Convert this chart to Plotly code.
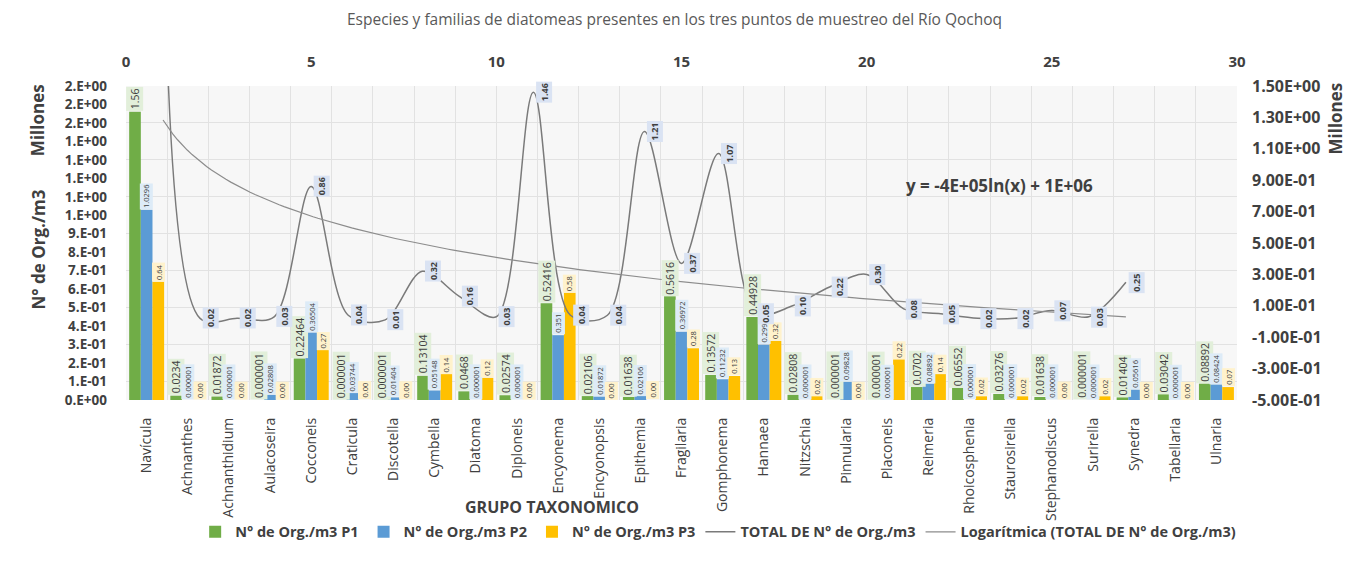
import numpy as np
import plotly.graph_objects as go

# ---------------- data (values in millions of organisms / m3) ----------------
categories = ["Navícula", "Achnanthes", "Achnanthidium", "Aulacoseira", "Cocconeis",
              "Craticula", "Discotella", "Cymbella", "Diatoma", "Diploneis", "Encyonema",
              "Encyonopsis", "Epithemia", "Fragilaria", "Gomphonema", "Hannaea", "Nitzschia",
              "Pinnularia", "Placoneis", "Reimeria", "Rhoicosphenia", "Staurosirella",
              "Stephanodiscus", "Surirella", "Synedra", "Tabellaria", "Ulnaria"]

p1 = [1.56, 0.0234, 0.01872, 0.000001, 0.22464, 0.000001, 0.000001, 0.13104, 0.0468,
      0.02574, 0.52416, 0.02106, 0.01638, 0.5616, 0.13572, 0.44928, 0.02808, 0.000001,
      0.000001, 0.0702, 0.06552, 0.03276, 0.01638, 0.000001, 0.01404, 0.03042, 0.08892]
p2 = [1.0296, 0.000001, 0.000001, 0.02808, 0.36504, 0.03744, 0.01404, 0.05148, 0.000001,
      0.000001, 0.351, 0.01872, 0.02106, 0.36972, 0.11232, 0.29952, 0.000001, 0.09828,
      0.000001, 0.08892, 0.000001, 0.000001, 0.000001, 0.000001, 0.05616, 0.000001, 0.08424]
p3 = [0.64, 0.0, 0.0, 0.0, 0.27, 0.0, 0.0, 0.14, 0.12, 0.0, 0.58, 0.0, 0.0, 0.28, 0.13,
      0.32, 0.02, 0.0, 0.22, 0.14, 0.02, 0.02, 0.0, 0.02, 0.0, 0.0, 0.07]
total = [3.23, 0.02, 0.02, 0.03, 0.86, 0.04, 0.01, 0.32, 0.16, 0.03, 1.46, 0.04, 0.04,
         1.21, 0.37, 1.07, 0.05, 0.10, 0.22, 0.30, 0.08, 0.05, 0.02, 0.02, 0.07, 0.03, 0.25]

left_ticks = [round(0.1 * k, 1) for k in range(18)]           # 0 .. 1.7
right_ticks = [round(-0.5 + 0.2 * k, 1) for k in range(11)]    # -0.5 .. 1.5

title = "Especies y familias de diatomeas presentes en los tres puntos de muestreo del Río Qochoq"
equation = "y = -4E+05ln(x) + 1E+06"

# ---------------- styling ----------------
FONT = "Open Sans"
TXT = "#404040"
C1, C2, C3 = "#70ad47", "#5b9bd5", "#ffc000"
BG1, BG2, BG3 = "#e2efda", "#ddebf7", "#fff2cc"
BARGAP = 0.15

def gen(v):
    return f"{v:.6f}".rstrip("0").rstrip(".")

total_x = list(range(1, len(categories) + 1))
b, a = np.polyfit(np.log(total_x), total, 1)
trend_x = np.linspace(1, len(categories), 200)
trend_y = a + b * np.log(trend_x)

fig = go.Figure()
for name, vals, col in [("N° de Org./m3 P1", p1, C1), ("N° de Org./m3 P2", p2, C2),
                        ("N° de Org./m3 P3", p3, C3)]:
    fig.add_trace(go.Bar(x=categories, y=vals, name=name, marker_color=col,
                         marker_line_width=0, xaxis="x", yaxis="y"))

fig.add_trace(go.Scatter(x=total_x, y=total, name="TOTAL DE N° de Org./m3", mode="lines",
                         line=dict(color="#7a7a7a", width=1.5, shape="spline", smoothing=0.9),
                         xaxis="x2", yaxis="y2"))
fig.add_trace(go.Scatter(x=trend_x, y=trend_y, name="Logarítmica (TOTAL DE N° de Org./m3)",
                         mode="lines", line=dict(color="#8c8c8c", width=1.2),
                         xaxis="x2", yaxis="y2"))

ann = []
w = (1 - BARGAP) / 3
for s, (vals, fmt, bg, size) in enumerate([(p1, gen, BG1, 10.5),
                                           (p2, gen, BG2, 7.5),
                                           (p3, lambda v: f"{v:.2f}", BG3, 7.5)]):
    off = (s - 1) * w
    for i, v in enumerate(vals):
        ann.append(dict(x=i + off, y=v, xref="x", yref="y", text=fmt(v), textangle=-90,
                        xanchor="center", yanchor="bottom", showarrow=False, bgcolor=bg,
                        borderpad=1, font=dict(family=FONT, size=size, color=TXT)))

for xv, v in zip(total_x, total):
    if v <= right_ticks[-1]:
        ann.append(dict(x=xv, y=v, xref="x2", yref="y2", text=f"{v:.2f}", textangle=-90,
                        xanchor="left", yanchor="middle", xshift=2, showarrow=False,
                        bgcolor="#dae3f3", borderpad=1,
                        font=dict(family=FONT, size=9, color=TXT, weight="bold")))

ann += [
    dict(x=0.786, y=0.682, xref="paper", yref="paper", text=equation, showarrow=False,
         xanchor="center", yanchor="middle",
         font=dict(family=FONT, size=17, color=TXT, weight="bold")),
    dict(x=0.383, y=-0.34, xref="paper", yref="paper", text="GRUPO TAXONOMICO",
         showarrow=False, xanchor="center", yanchor="middle",
         font=dict(family=FONT, size=16, color=TXT, weight="bold")),
    dict(x=-0.079, y=0.48, xref="paper", yref="paper", text="N° de Org./m3", textangle=-90,
         showarrow=False, xanchor="center", yanchor="middle",
         font=dict(family=FONT, size=17, color=TXT, weight="bold")),
    dict(x=-0.079, y=0.892, xref="paper", yref="paper", text="Millones", textangle=-90,
         showarrow=False, xanchor="center", yanchor="middle",
         font=dict(family=FONT, size=17, color=TXT, weight="bold")),
    dict(x=1.1008, y=0.898, xref="paper", yref="paper", text="Millones", textangle=-90,
         showarrow=False, xanchor="right", yanchor="middle",
         font=dict(family=FONT, size=17, color=TXT, weight="bold")),
]

GRID = "#e2e2e2"
fig.update_layout(
    width=1349, height=570,
    margin=dict(l=126, r=112, t=86, b=170),
    paper_bgcolor="white", plot_bgcolor="#f7f7f7",
    barmode="group", bargap=BARGAP, bargroupgap=0,
    font=dict(family=FONT, color=TXT),
    title=dict(text=title, x=0.5, xanchor="center", y=0.965, yanchor="middle",
               font=dict(family=FONT, size=15.5, color="#595959")),
    xaxis=dict(type="category", tickangle=-90, tickson="boundaries", showgrid=True,
               gridcolor=GRID, ticks="", tickfont=dict(size=14, color=TXT),
               ticklabelstandoff=14, showline=False, zeroline=False),
    yaxis=dict(range=[0, 1.7], tickvals=left_ticks,
               ticktext=[f"{v:#.0E}" for v in left_ticks], showgrid=False, zeroline=False,
               tickfont=dict(size=13.5, color=TXT, weight="bold"), ticklabelstandoff=18,
               minor=dict(tickvals=[round(0.1 + 0.2 * k, 1) for k in range(9)],
                          showgrid=True, gridcolor=GRID, ticklen=0)),
    xaxis2=dict(overlaying="x", side="top", range=[0, 30], dtick=5, tick0=0, showgrid=False,
                zeroline=False, tickfont=dict(size=15, color=TXT, weight="bold"),
                ticklabelstandoff=15),
    yaxis2=dict(overlaying="y", side="right", range=[-0.5, 1.5], tickvals=right_ticks,
                ticktext=[f"{v:.2E}" for v in right_ticks], showgrid=False, zeroline=False,
                tickfont=dict(size=16, color=TXT, weight="bold"), ticklabelstandoff=14),
    legend=dict(orientation="h", x=0.533, xanchor="center", y=-0.42, yanchor="middle",
                font=dict(family=FONT, size=14.5, color=TXT, weight="bold"),
                bgcolor="rgba(0,0,0,0)", itemwidth=30),
    annotations=ann,
    showlegend=True,
)

fig.write_html("out.html", config={"displayModeBar": False},
               post_script="document.body.style.margin='0';")
